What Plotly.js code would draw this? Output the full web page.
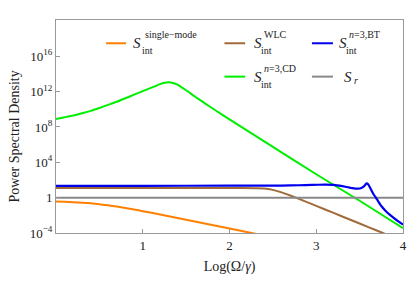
<!DOCTYPE html>
<html>
<head>
<meta charset="utf-8">
<script src="https://cdn.plot.ly/plotly-3.0.1.min.js"></script>
<style>html,body{margin:0;padding:0;background:#fff;}#chart{width:415px;height:284px;}</style>
</head>
<body>
<div id="chart"></div>
<script>
// x = Log(Omega/gamma); y values are log10 of the power spectral density
const singleX = [0,0.1,0.2,0.3,0.4,0.5,0.6,0.7,0.8,0.9,1.0,1.2,1.4,1.6,1.8,2.0,2.2,2.4];
const singleY = [-0.43,-0.47,-0.51,-0.57,-0.64,-0.74,-0.87,-1.01,-1.17,-1.34,-1.53,-1.90,-2.30,-2.69,-3.09,-3.49,-3.89,-4.29];

const wlcX = [0,1,2,2.3,2.4,2.5,2.6,2.7,2.8,2.9,3.0,3.2,3.4,3.6,3.8,3.9];
const wlcY = [1.08,1.08,1.08,1.07,1.04,0.88,0.6,0.25,-0.13,-0.53,-0.93,-1.73,-2.53,-3.33,-4.13,-4.53];

const btX = [0,1,2,2.6,2.8,2.95,3.1,3.2,3.3,3.4,3.45,3.48,3.52,3.55,3.58,3.6,3.63,3.66,3.7,3.75,3.8,3.85,3.9,3.95,4.0];
const btY = [1.34,1.34,1.35,1.37,1.4,1.45,1.47,1.45,1.3,1.1,1.02,1.02,1.1,1.28,1.62,1.5,0.95,0.38,-0.2,-0.95,-1.5,-1.95,-2.35,-2.72,-3.06];

const cdX = [0,0.1,0.2,0.3,0.4,0.5,0.6,0.7,0.8,0.9,1.0,1.1,1.2,1.25,1.3,1.35,1.4,1.5,1.6,1.7,1.85,2.0,2.5,3.0,3.5,4.0];
const cdY = [8.91,9.1,9.3,9.55,9.82,10.15,10.5,10.85,11.25,11.65,12.05,12.45,12.85,13.0,13.06,12.98,12.8,12.15,11.45,10.78,9.8,8.85,5.75,2.65,-0.35,-3.45];

const srX = [0,4];
const srY = [0,0];

const yTickVals = [-4,0,4,8,12,16];
const yTickText = ["10<sup>\u22124</sup>","1","10<sup>4</sup>","10<sup>8</sup>","10<sup>12</sup>","10<sup>16</sup>"];
const xTickVals = [1,2,3,4];
const xTickText = ["1","2","3","4"];

const colors = {single:"#ff8000", wlc:"#a06a3a", bt:"#0000ee", cd:"#00ee00", sr:"#888888"};
const FONT = "Liberation Serif, Times New Roman, serif";

const traces = [
  {x:singleX, y:singleY, mode:"lines", line:{color:colors.single, width:2, shape:"spline", smoothing:0.6}},
  {x:wlcX, y:wlcY, mode:"lines", line:{color:colors.wlc, width:2, shape:"spline", smoothing:0.6}},
  {x:cdX, y:cdY, mode:"lines", line:{color:colors.cd, width:2, shape:"spline", smoothing:0.5}},
  {x:srX, y:srY, mode:"lines", line:{color:colors.sr, width:2}},
  {x:btX, y:btY, mode:"lines", line:{color:colors.bt, width:2.2, shape:"spline", smoothing:0.4}}
];

// plot area in pixels
const L=56, R=402.7, T=20, B=233.3;
const px = X => (X-L)/(R-L);
const py = Y => (B-Y)/(B-T);

const shapes = [];
const annotations = [];
function legendEntry(x0, x1, Yc, color, sLeft, sup, sub, supLeft, subLeft){
  shapes.push({type:"line", xref:"paper", yref:"paper", x0:px(x0), x1:px(x1), y0:py(Yc), y1:py(Yc), line:{color:color, width:2}});
  annotations.push({xref:"paper", yref:"paper", x:px(sLeft), y:py(Yc), xanchor:"left", yanchor:"middle", showarrow:false, text:"<i>S</i>", font:{family:FONT, size:15, color:"#222"}});
  if(sup) annotations.push({xref:"paper", yref:"paper", x:px(supLeft), y:py(Yc-8.5), xanchor:"left", yanchor:"middle", showarrow:false, text:sup, font:{family:FONT, size:10, color:"#222"}});
  if(sub) annotations.push({xref:"paper", yref:"paper", x:px(subLeft), y:py(Yc+7.5), xanchor:"left", yanchor:"middle", showarrow:false, text:sub, font:{family:FONT, size:10, color:"#222"}});
}
legendEntry(106,126,43.3,colors.single,131,"single\u2212mode","int",142.5,139.5);
legendEntry(224.3,245,43.3,colors.wlc,252,"WLC","int",262,258.5);
legendEntry(311.7,332.7,43.3,colors.bt,337,"<i>n</i>=3,BT","int",347,343.5);
legendEntry(224.3,245,76.7,colors.cd,252,"<i>n</i>=3,CD","int",262,258.5);
legendEntry(311.7,332.7,76.7,colors.sr,342,null,null,0,0);
annotations.push({xref:"paper", yref:"paper", x:px(351.5), y:py(80.5), xanchor:"left", yanchor:"middle", showarrow:false, text:"<i>r</i>", font:{family:FONT, size:10, color:"#222"}});

annotations.push({xref:"paper", yref:"paper", x:px(15), y:py(136.7), xanchor:"center", yanchor:"middle", textangle:-90, showarrow:false, text:"Power Spectral Density", font:{family:FONT, size:14, color:"#222"}});

const layout = {
  width:415, height:284,
  margin:{l:L, r:415-R, t:T, b:284-B, pad:0},
  paper_bgcolor:"#fff", plot_bgcolor:"#fff",
  showlegend:false,
  font:{family:FONT, color:"#222"},
  xaxis:{range:[0,4], tickvals:xTickVals, ticktext:xTickText, ticks:"inside", ticklen:4, tickcolor:"#999",
    showline:true, linecolor:"#999", linewidth:1, mirror:true, showgrid:false, zeroline:false,
    tickfont:{family:FONT, size:13, color:"#222"},
    title:{text:"Log(\u03a9/<i>\u03b3</i>)", font:{family:FONT, size:14, color:"#222"}, standoff:9}},
  yaxis:{range:[-4,20.1], tickvals:yTickVals, ticktext:yTickText, ticks:"inside", ticklen:4, tickcolor:"#999",
    showline:true, linecolor:"#999", linewidth:1, mirror:true, showgrid:false, zeroline:false,
    tickfont:{family:FONT, size:13, color:"#222"}},
  shapes:shapes,
  annotations:annotations
};

Plotly.newPlot("chart", traces, layout, {displayModeBar:false, staticPlot:true});
</script>
</body>
</html>
